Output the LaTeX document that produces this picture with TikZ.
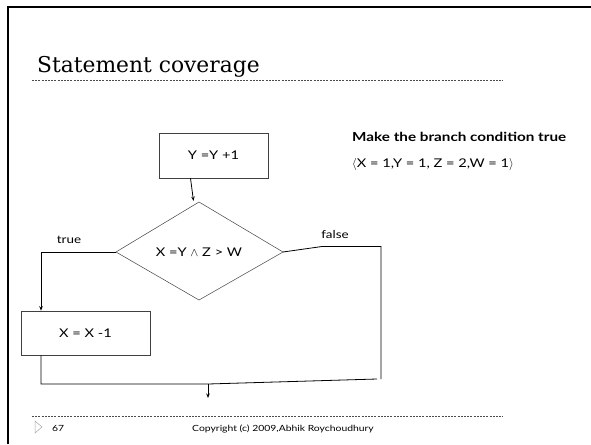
\documentclass[tikz,border=0pt]{standalone}
\usepackage{fontspec}
\usetikzlibrary{arrows.meta}
\newfontfamily\gill[FakeStretch=1.22]{Lato}
\newfontfamily\titlef{DejaVu Serif}
\begin{document}
\begin{tikzpicture}[x=1pt,y=-1pt,
  every node/.style={inner sep=0pt, font=\gill\fontsize{12}{14}\selectfont},
  stmt/.style={draw=black!75, line width=0.5pt, fill=white},
  flow/.style={line width=0.8pt, line join=miter},
  arr/.style={flow, -{Stealth[length=4.5pt,width=3.5pt]}},
  rule/.style={black!70, line width=0.5pt, dash pattern=on 2pt off 1.2pt}]
\useasboundingbox (0,0) rectangle (591,444);
% slide frame
\draw[line width=2.4pt] (8,444) -- (8,7) -- (591,7);
% heading and rules
\node[anchor=base west, font=\titlef\fontsize{21.8}{25}\selectfont] (title) at (37,73) {Statement coverage};
\coordinate (hl) at (32,80); \coordinate (hr) at (503,80);
\draw[rule] (hl) -- (hr);
\coordinate (fl) at (32,416); \coordinate (fr) at (503,416);
\draw[rule] (fl) -- (fr);
% flowchart
\node[stmt, minimum width=109pt, minimum height=45pt] (inc) at (213.5,155.5) {Y =Y +1};
\coordinate (dl) at (116,252);
\coordinate (dr) at (283,252);
\coordinate (dt) at (199,202);
\coordinate (db) at (199,300);
\draw[black!75, line width=0.5pt] (dl) -- (dt) -- (dr) -- (db) -- cycle;
\node (cond) at (199,252) {X =Y $\wedge$ Z > W};
\node[stmt, minimum width=129pt, minimum height=44pt] (dec) at (85.5,333) {X = X -1};
\coordinate (dtin) at (193.5,201);
\draw[arr] ([xshift=-23pt]inc.south) -- (dtin);
% true branch
\coordinate (tc) at (41,252);
\draw[arr] (dl) -- (tc) -- (tc |- dec.north);
\node[font=\gill\fontsize{11}{13}\selectfont] (true) at (69,240) {true};
% false branch
\coordinate (f1) at (322,246.5);
\coordinate (f2) at (381,246.5);
\coordinate (f3) at (381,379);
\draw[flow] (dr) -- (f1) -- (f2) -- (f3);
\node[font=\gill\fontsize{11}{13}\selectfont] (false) at (335,234) {false};
% join
\coordinate (j1) at (41,384);
\coordinate (jm) at (208,384);
\coordinate (j2) at (377,379);
\coordinate (jout) at (208,398);
\draw[flow] (tc |- dec.south) -- (j1) -- (jm) -- (j2);
\draw[arr] (jm) -- (jout);
% side note
\node[anchor=base west, font=\gill\bfseries\fontsize{12.5}{15}\selectfont] (note) at (352,141) {Make the branch condition true};
\node[anchor=base west] (vals) at (352,167) {$\langle$X = 1,Y = 1, Z = 2,W = 1$\rangle$};
% footer
\draw[black!35, line width=0.5pt] (35,421) -- (42,427) -- (35,433) -- cycle;
\node[anchor=base west, font=\gill\fontsize{8.5}{10}\selectfont] (num) at (52,431) {67};
\node[anchor=base, font=\gill\fontsize{8.5}{10}\selectfont] (copy) at (283,431) {Copyright (c) 2009,Abhik Roychoudhury};
\end{tikzpicture}
\end{document}
